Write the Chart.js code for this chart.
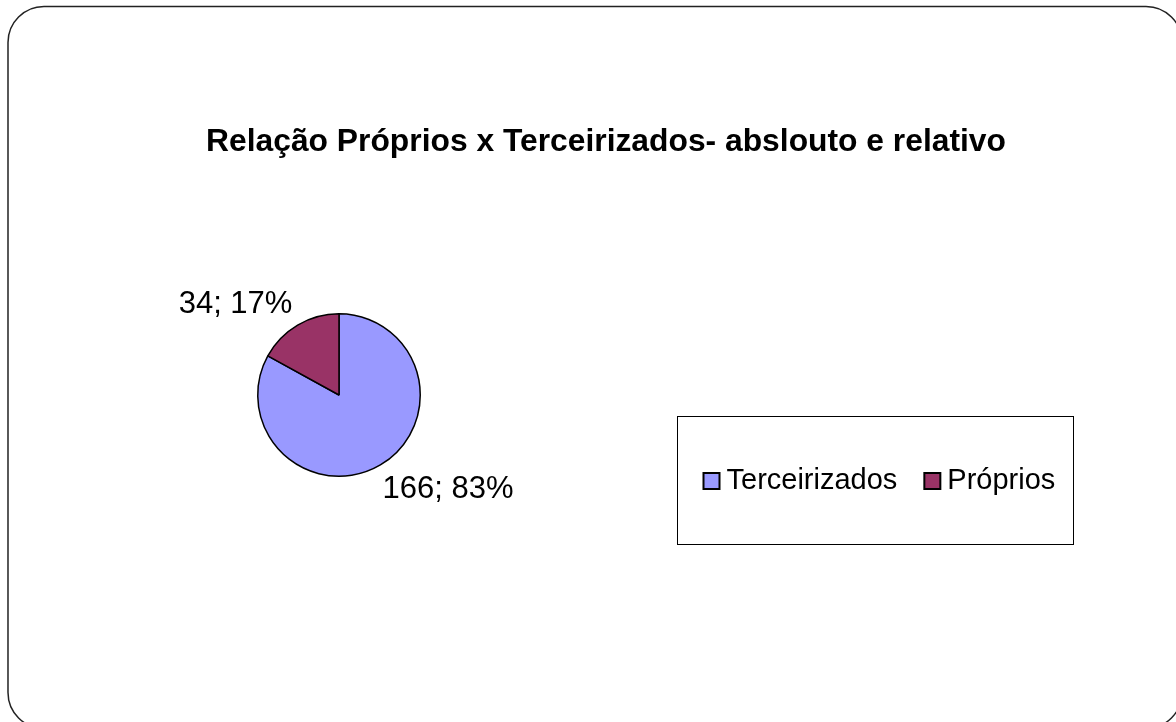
<!DOCTYPE html>
<html>
<head>
<meta charset="utf-8">
<script src="https://cdn.jsdelivr.net/npm/chart.js@4"></script>
<style>
  html, body { margin: 0; padding: 0; background: #fff; }
  #wrap { width: 1176px; height: 722px; position: relative; }
</style>
</head>
<body>
<div id="wrap"><canvas id="chart" width="1176" height="722"></canvas></div>
<script>
// Données du graphique
const categories = ['Terceirizados', 'Próprios'];
const values = [166, 34];
const colors = ['#9999FF', '#993366'];
const titleText = 'Relação Próprios x Terceirizados- abslouto e relativo';

const FONT = '"Liberation Sans", Arial, sans-serif';

// cadre arrondi, titre, étiquettes et légende
const decor = {
  id: 'decor',
  beforeDraw(chart) {
    const ctx = chart.ctx;
    ctx.save();
    ctx.fillStyle = '#fff';
    ctx.fillRect(0, 0, chart.width, chart.height);
    ctx.strokeStyle = '#222';
    ctx.lineWidth = 1.5;
    ctx.beginPath();
    ctx.roundRect(8, 6.5, 1174, 722, 36);
    ctx.stroke();
    ctx.restore();
  },
  afterDraw(chart) {
    const ctx = chart.ctx;
    ctx.save();
    ctx.fillStyle = '#000';
    ctx.font = 'bold 31.8px ' + FONT;
    ctx.textAlign = 'center';
    ctx.textBaseline = 'alphabetic';
    ctx.fillText(titleText, 606, 151);

    // étiquettes des parts
    const total = values.reduce((a, b) => a + b, 0);
    const meta = chart.getDatasetMeta(0);
    ctx.font = '31px ' + FONT;
    meta.data.forEach((arc, i) => {
      const mid = (arc.startAngle + arc.endAngle) / 2;
      const r = arc.outerRadius + 26;
      const x = arc.x + Math.cos(mid) * r;
      const y = arc.y + Math.sin(mid) * r;
      const txt = values[i] + '; ' + Math.round(values[i] / total * 100) + '%';
      const left = Math.cos(mid) < 0;
      ctx.textAlign = left ? 'right' : 'left';
      ctx.textBaseline = 'middle';
      ctx.fillText(txt, x + (left ? 8 : -11), y + 2);
    });

    // légende
    ctx.strokeStyle = '#000';
    ctx.lineWidth = 1;
    ctx.strokeRect(677.5, 416.5, 396, 128);
    let lx = 703.5;
    const ly = 481;
    ctx.font = '29px ' + FONT;
    ctx.textAlign = 'left';
    ctx.textBaseline = 'middle';
    categories.forEach((c, i) => {
      ctx.fillStyle = colors[i];
      ctx.fillRect(lx, ly - 8, 16, 16);
      ctx.lineWidth = 2;
      ctx.strokeRect(lx, ly - 8, 16, 16);
      ctx.fillStyle = '#000';
      ctx.fillText(c, lx + 23, ly);
      lx += 23 + ctx.measureText(c).width + 27;
    });
    ctx.restore();
  }
};

new Chart(document.getElementById('chart'), {
  type: 'pie',
  data: {
    labels: categories,
    datasets: [{
      data: values,
      backgroundColor: colors,
      borderColor: '#000',
      borderWidth: 1.5
    }]
  },
  options: {
    responsive: false,
    animation: false,
    layout: { padding: { left: 257, right: 755, top: 313, bottom: 245 } },
    plugins: {
      legend: { display: false },
      title: { display: false },
      tooltip: { enabled: false }
    }
  },
  plugins: [decor]
});
</script>
</body>
</html>
